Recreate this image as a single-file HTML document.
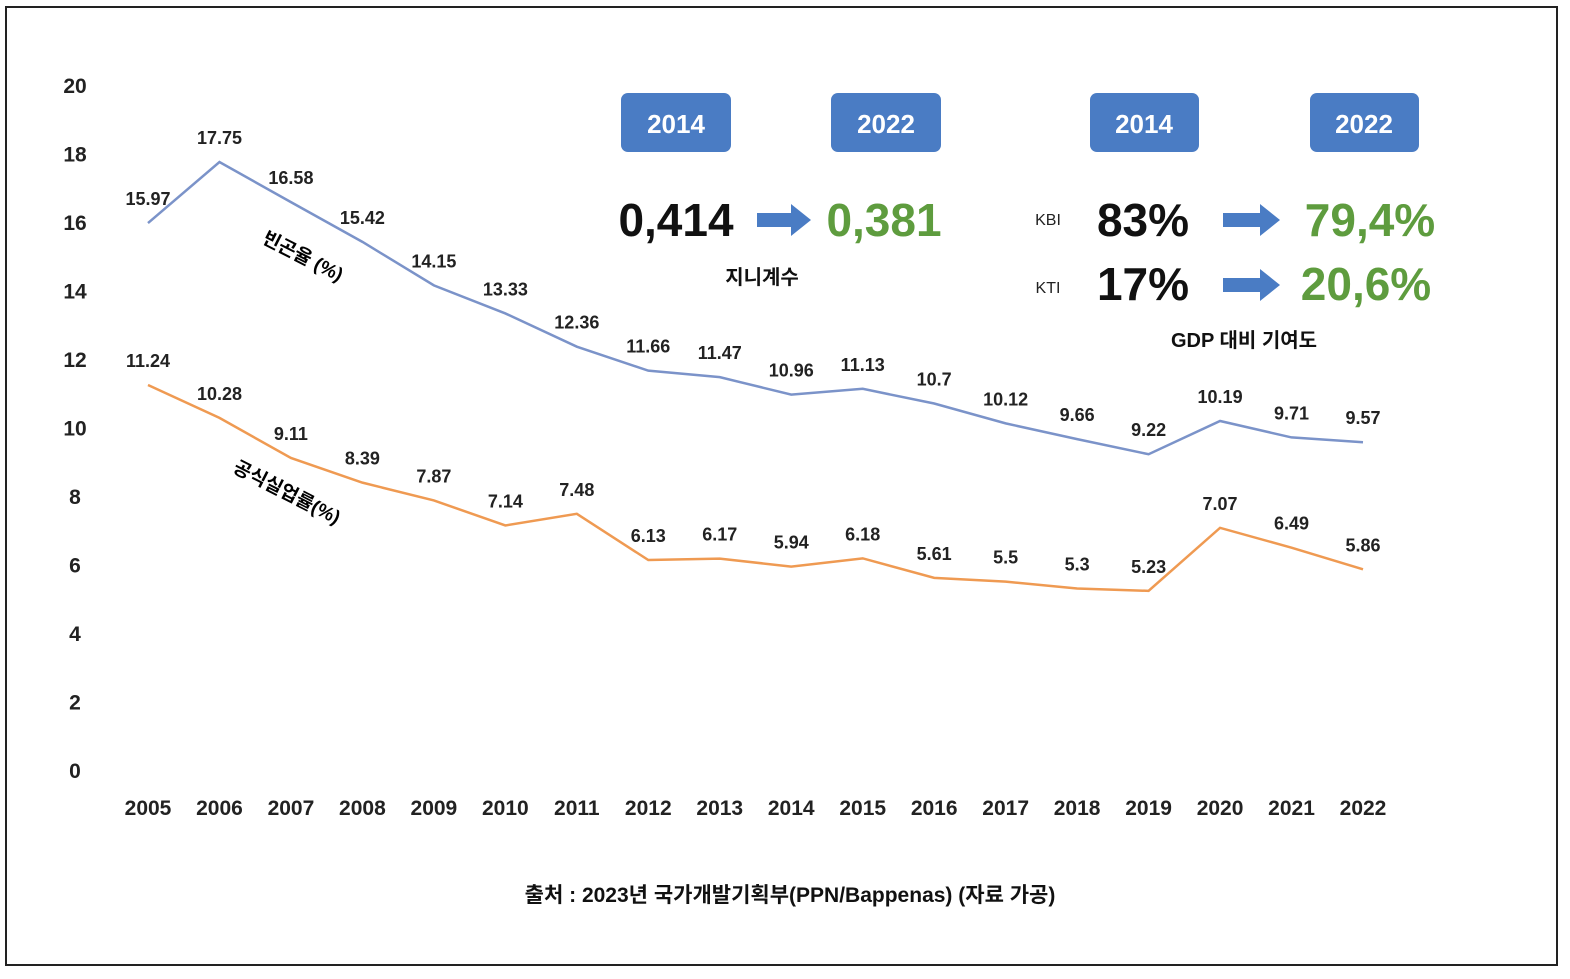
<!DOCTYPE html>
<html><head><meta charset="utf-8"><style>
body{margin:0;background:#fff;}
svg text{font-family:"Liberation Sans","Noto Sans CJK KR",sans-serif;}
</style></head><body>
<svg id="c" width="1570" height="974" xmlns="http://www.w3.org/2000/svg">
<rect x="6" y="7" width="1551" height="958" fill="#fff" stroke="#222" stroke-width="2"/>
<g id="yax"></g>
<g id="xax"></g>
<g id="series"></g>
<text x="300" y="262" transform="rotate(27 300 262)" font-size="19" font-weight="bold" text-anchor="middle">빈곤율 (%)</text>
<text x="284" y="498" transform="rotate(27 284 498)" font-size="19" font-weight="bold" text-anchor="middle">공식실업률(%)</text>
<g>
<rect x="621" y="93" width="110" height="59" rx="7" fill="#4a7cc4"/>
<text x="676" y="133" font-size="26" font-weight="bold" fill="#fff" text-anchor="middle">2014</text>
<rect x="831" y="93" width="110" height="59" rx="7" fill="#4a7cc4"/>
<text x="886" y="133" font-size="26" font-weight="bold" fill="#fff" text-anchor="middle">2022</text>
<text x="676" y="236" font-size="46" font-weight="bold" fill="#111" text-anchor="middle">0,414</text>
<path d="M757 213 h34 v-9 l20 16 l-20 16 v-9 h-34z" fill="#4a7cc4"/>
<text x="884" y="236" font-size="46" font-weight="bold" fill="#5e9c3e" text-anchor="middle">0,381</text>
<text x="762" y="284" font-size="20" font-weight="bold" fill="#111" text-anchor="middle">지니계수</text>
</g>
<g>
<rect x="1090" y="93" width="109" height="59" rx="7" fill="#4a7cc4"/>
<text x="1144" y="133" font-size="26" font-weight="bold" fill="#fff" text-anchor="middle">2014</text>
<rect x="1310" y="93" width="109" height="59" rx="7" fill="#4a7cc4"/>
<text x="1364" y="133" font-size="26" font-weight="bold" fill="#fff" text-anchor="middle">2022</text>
<text x="1048" y="225" font-size="16" fill="#222" text-anchor="middle">KBI</text>
<text x="1143" y="236" font-size="46" font-weight="bold" fill="#111" text-anchor="middle">83%</text>
<path d="M1223 213 h37 v-9 l20 16 l-20 16 v-9 h-37z" fill="#4a7cc4"/>
<text x="1370" y="236" font-size="46" font-weight="bold" fill="#5e9c3e" text-anchor="middle">79,4%</text>
<text x="1048" y="293" font-size="16" fill="#222" text-anchor="middle">KTI</text>
<text x="1143" y="300" font-size="46" font-weight="bold" fill="#111" text-anchor="middle">17%</text>
<path d="M1223 278 h37 v-9 l20 16 l-20 16 v-9 h-37z" fill="#4a7cc4"/>
<text x="1366" y="300" font-size="46" font-weight="bold" fill="#5e9c3e" text-anchor="middle">20,6%</text>
<text x="1244" y="347" font-size="20" font-weight="bold" fill="#111" text-anchor="middle">GDP 대비 기여도</text>
</g>
<text x="790" y="902" font-size="21" font-weight="bold" fill="#111" text-anchor="middle">출처 : 2023년 국가개발기획부(PPN/Bappenas) (자료 가공)</text>
</svg>
<script>
const years=[2005,2006,2007,2008,2009,2010,2011,2012,2013,2014,2015,2016,2017,2018,2019,2020,2021,2022];
const poverty=[15.97,17.75,16.58,15.42,14.15,13.33,12.36,11.66,11.47,10.96,11.13,10.7,10.12,9.66,9.22,10.19,9.71,9.57];
const unemployment=[11.24,10.28,9.11,8.39,7.87,7.14,7.48,6.13,6.17,5.94,6.18,5.61,5.5,5.3,5.23,7.07,6.49,5.86];
const yTicks=[0,2,4,6,8,10,12,14,16,18,20];
const NS='http://www.w3.org/2000/svg';
const x=i=>148+i*(1215/17);
const y=v=>770-v*34.25;
function mk(tag,attrs,parent,txt){const e=document.createElementNS(NS,tag);for(const k in attrs)e.setAttribute(k,attrs[k]);if(txt!==undefined)e.textContent=txt;parent.appendChild(e);return e;}
const yax=document.getElementById('yax'),xax=document.getElementById('xax'),ser=document.getElementById('series');
yTicks.forEach(t=>{const e=mk('text',{x:75,y:y(t)+8,'font-size':21,'font-weight':'bold','text-anchor':'middle',fill:'#222'},yax,String(t));

});
years.forEach((yr,i)=>{const e=mk('text',{x:x(i),y:815,'font-size':21,'font-weight':'bold','text-anchor':'middle',fill:'#222'},xax,String(yr));

});
function series(vals,color,name){
const p=mk('polyline',{points:vals.map((v,i)=>x(i)+','+y(v)).join(' '),fill:'none',stroke:color,'stroke-width':2.5},ser);


vals.forEach((v,i)=>{const t=mk('text',{x:x(i),y:y(v)-18,'font-size':18,'font-weight':'bold','text-anchor':'middle',fill:'#222'},ser,String(v));

});
}
series(poverty,'#7b93c9','poverty');
series(unemployment,'#ef9a52','unemployment');
</script>
</body></html>
